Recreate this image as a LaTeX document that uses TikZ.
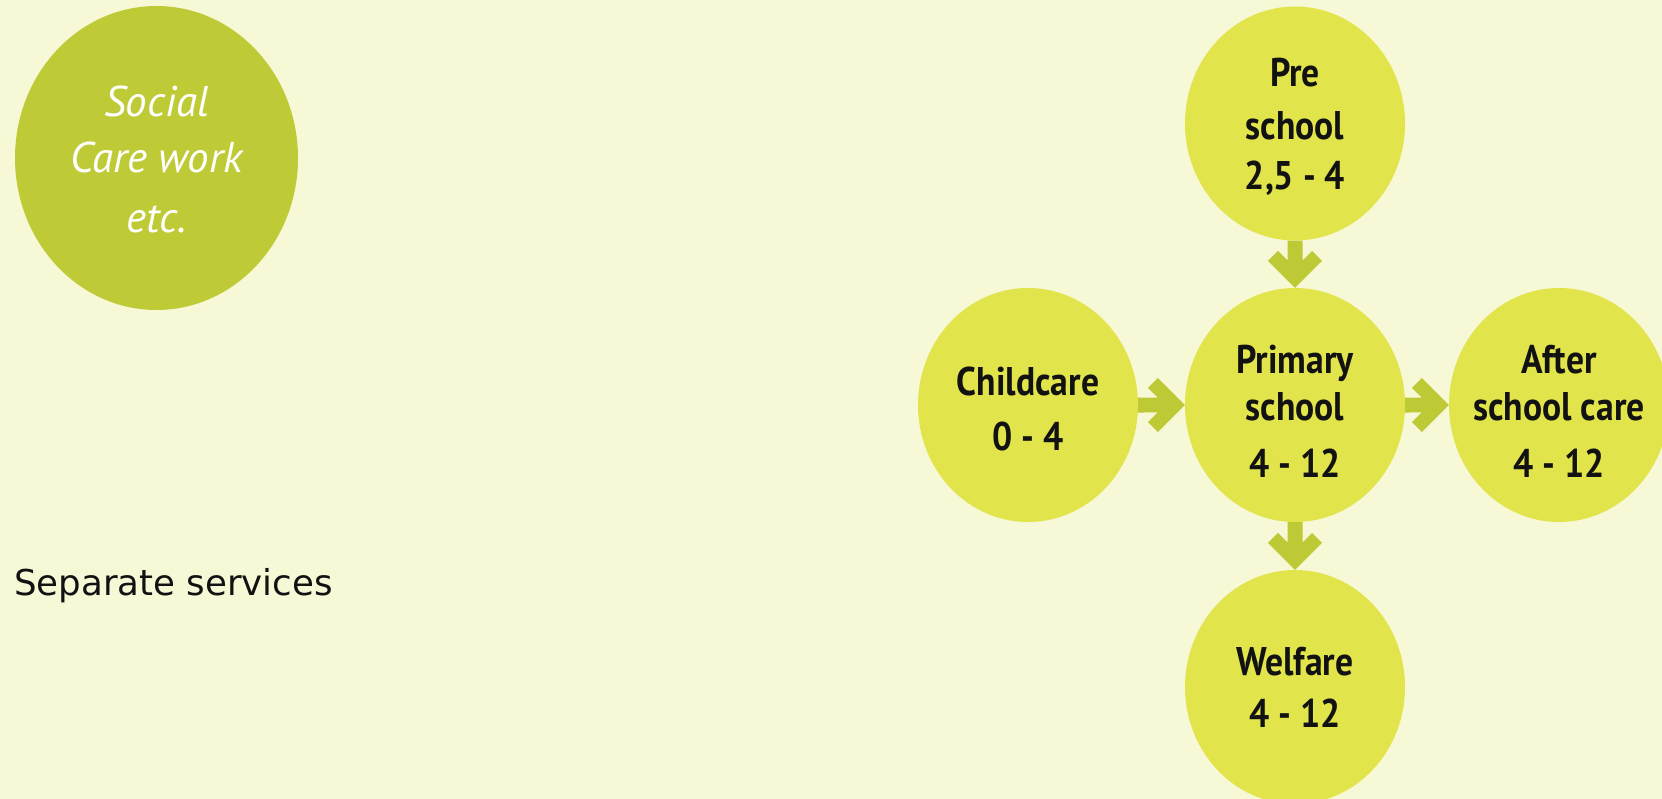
\documentclass[tikz,border=0pt]{standalone}
\usepackage{fontspec}
\usetikzlibrary{shapes.geometric,calc}
\setmainfont{DejaVu Sans}
\newfontfamily\handfont[FakeStretch=0.89]{PT Sans}
\newfontfamily\socfont[FakeStretch=1.0]{PT Sans}
\definecolor{bgc}{HTML}{F7F8D6}
\definecolor{yc}{HTML}{E1E44A}
\definecolor{oc}{HTML}{BECB36}
\definecolor{ac}{HTML}{BDC935}
\definecolor{tc}{HTML}{121212}
\tikzset{
  ybub/.style={ellipse, fill=yc, draw=none, minimum width=220pt, minimum height=234pt,
    inner sep=-15pt, align=center, text=tc, text depth=0pt,
    font=\handfont\bfseries\fontsize{40}{47}\selectfont},
  obub/.style={ellipse, fill=oc, draw=none, minimum width=283pt, minimum height=304pt,
    inner sep=-15pt, align=center, text=white, text depth=0pt,
    font=\socfont\itshape\fontsize{43}{56}\selectfont},
  blockarrow/.style={fill=ac, draw=none, to path={
    let \p1=(\tikztostart), \p2=(\tikztotarget), \n1={atan2(\y1-\y2,\x1-\x2)} in
    ($(\p2)$) -- ($(\p2)+(\n1+45:38.18pt)$) -- ($(\p2)+(\n1+24.86:40.67pt)$)
    -- ($(\p2)+(\n1+15.36:28.31pt)$) -- ($(\p1)+(\n1+90:7.5pt)$)
    -- ($(\p1)+(\n1-90:7.5pt)$) -- ($(\p2)+(\n1-15.36:28.31pt)$)
    -- ($(\p2)+(\n1-24.86:40.67pt)$) -- ($(\p2)+(\n1-45:38.18pt)$) -- cycle}}
}
\begin{document}
\begin{tikzpicture}[x=1pt,y=-1pt]
\fill[bgc] (0,0) rectangle (1662,799);
\useasboundingbox (0,0) rectangle (1662,799);

\node[obub, text height=150pt] (soc) at (156.5,158) {Social\\Care work\\[4pt]etc.};

\node[ybub, text height=133pt] (pre) at (1295,123.5) {Pre\\[6pt]school\\[3pt]2,5 - 4};
\node[ybub, text height=90pt] (cc)  at (1028,405) {Childcare\\[8pt]0 - 4};
\node[ybub, text height=144pt] (pr)  at (1295,405) {Primary\\school\\[10pt]4 - 12};
\node[ybub, text height=144pt] (af)  at (1559,405) {After\\school care\\[10pt]4 - 12};
\node[ybub, text height=80pt] (wf)  at (1295,687) {Welfare\\[5pt]4 - 12};

\path[blockarrow] (pre.south) to (pr.north);
\path[blockarrow] (cc.east) to (pr.west);
\path[blockarrow] (pr.east) to (af.west);
\path[blockarrow] (pr.south) to (wf.north);

\node[anchor=base west, inner sep=0pt, text=tc, font=\fontsize{35.6}{40}\selectfont] (sep) at (14,595) {Separate services};
\end{tikzpicture}
\end{document}
